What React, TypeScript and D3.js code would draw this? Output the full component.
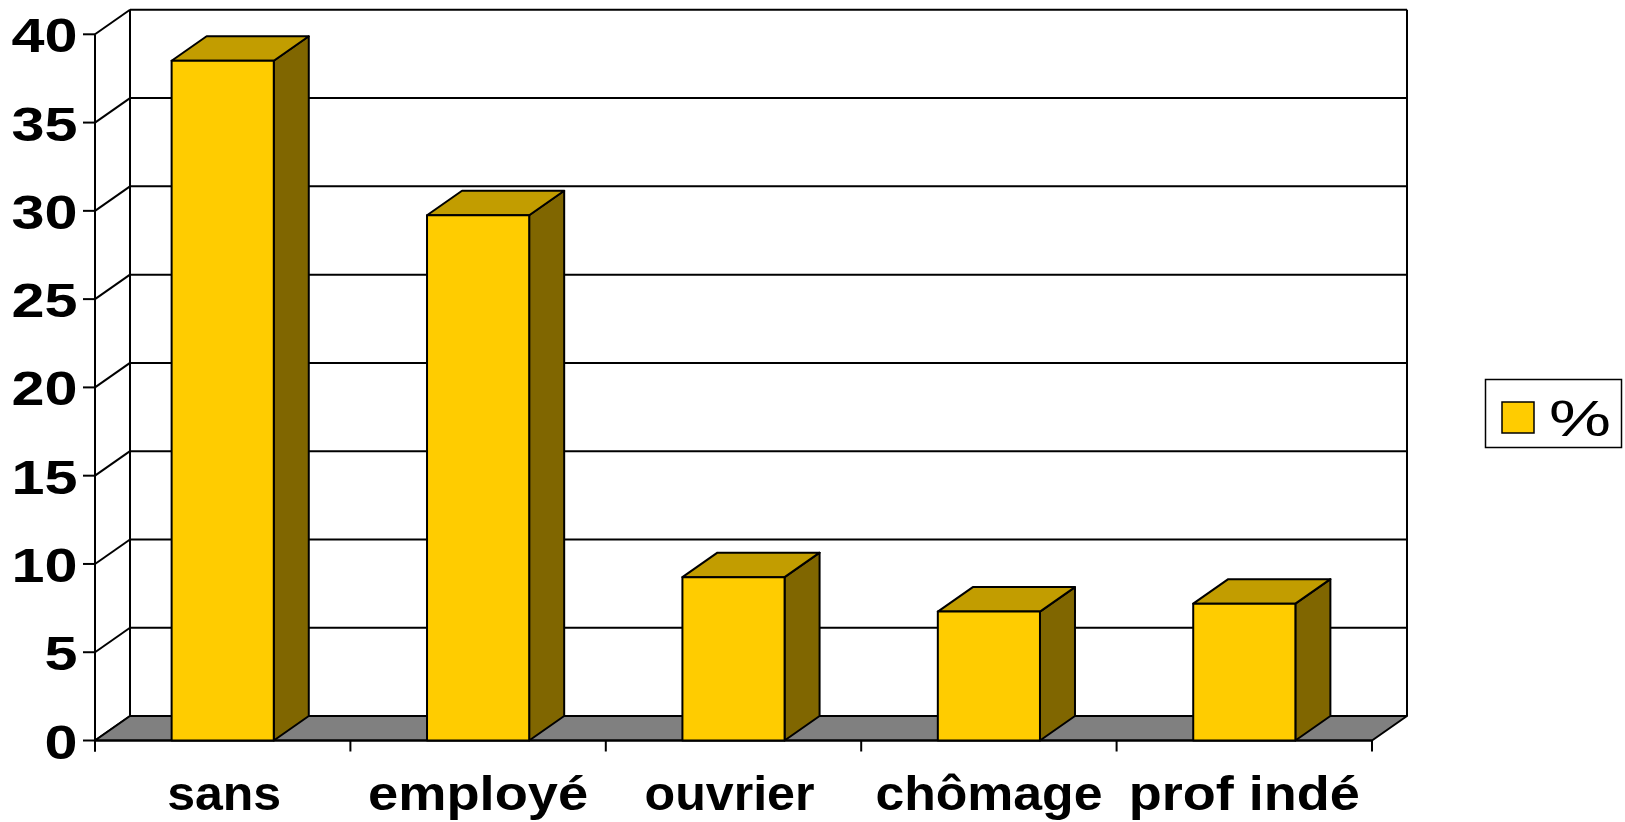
import React from "react";
import * as d3 from "d3";

// ---- data ----
const categories = ["sans", "employé", "ouvrier", "chômage", "prof indé"];
const values = [38.5, 29.75, 9.25, 7.3, 7.75];
const yTicks = [0, 5, 10, 15, 20, 25, 30, 35, 40];
const seriesName = "%";

// ---- layout constants ----
const W = 1625;
const H = 822;
const plotLeft = 95;
const plotRight = 1372;
const yZero = 740.5;
const yTop = 34.3;
const depthX = 35;
const depthY = -24.5;
const catLabelLengths = [114, 220, 170, 227, 231];

const FRONT = "#FFCC00";
const TOP = "#C29D00";
const SIDE = "#806600";
const FLOOR = "#808080";

export default function App() {
  const y = d3.scaleLinear().domain([0, 40]).range([yZero, yTop]);
  const x = d3
    .scaleBand<string>()
    .domain(categories)
    .range([plotLeft, plotRight])
    .paddingInner(0.6)
    .paddingOuter(0.3);
  const step = x.step();
  const bw = x.bandwidth();
  const backL = plotLeft + depthX;
  const backR = plotRight + depthX;
  const sw = 2;

  const floorPts = [
    [plotLeft, yZero],
    [plotRight, yZero],
    [backR, yZero + depthY],
    [backL, yZero + depthY],
  ]
    .map((p) => p.join(","))
    .join(" ");

  return (
    <svg
      width={W}
      height={H}
      style={{ position: "absolute", left: 0, top: 0, background: "#fff" }}
      fontFamily="'Liberation Sans', Arial, sans-serif"
    >
      {/* back wall gridlines */}
      {yTicks.map((t) => (
        <line
          key={"g" + t}
          x1={backL}
          x2={backR}
          y1={y(t) + depthY}
          y2={y(t) + depthY}
          stroke="#000"
          strokeWidth={sw}
        />
      ))}
      {/* side wall diagonals */}
      {yTicks.map((t) => (
        <line
          key={"d" + t}
          x1={plotLeft}
          x2={backL}
          y1={y(t)}
          y2={y(t) + depthY}
          stroke="#000"
          strokeWidth={sw}
        />
      ))}
      {/* back wall verticals */}
      <line x1={backL} x2={backL} y1={y(40) + depthY} y2={yZero + depthY} stroke="#000" strokeWidth={sw} />
      <line x1={backR} x2={backR} y1={y(40) + depthY} y2={yZero + depthY} stroke="#000" strokeWidth={sw} />
      {/* floor */}
      <polygon points={floorPts} fill={FLOOR} stroke="#000" strokeWidth={sw} strokeLinejoin="round" />
      {/* front y axis */}
      <line x1={plotLeft} x2={plotLeft} y1={y(40)} y2={yZero + 11} stroke="#000" strokeWidth={sw} />
      {yTicks.map((t) => (
        <line key={"t" + t} x1={plotLeft - 12} x2={plotLeft} y1={y(t)} y2={y(t)} stroke="#000" strokeWidth={sw} />
      ))}
      {yTicks.map((t) => {
        const len = String(t).length * 33;
        return (
          <text
            key={"l" + t}
            x={77.5}
            y={y(t) + 18}
            textAnchor="end"
            fontSize={48}
            fontWeight="bold"
            textLength={len}
            lengthAdjust="spacingAndGlyphs"
          >
            {t}
          </text>
        );
      })}
      {/* x axis */}
      <line x1={plotLeft} x2={plotRight} y1={yZero} y2={yZero} stroke="#000" strokeWidth={sw} />
      {d3.range(categories.length + 1).map((i) => (
        <line
          key={"xt" + i}
          x1={plotLeft + i * step}
          x2={plotLeft + i * step}
          y1={yZero}
          y2={yZero + 11}
          stroke="#000"
          strokeWidth={sw}
        />
      ))}
      {/* bars */}
      {categories.map((c, i) => {
        const x0 = x(c)!;
        const x1 = x0 + bw;
        const yt = y(values[i]);
        const top = [
          [x0, yt],
          [x1, yt],
          [x1 + depthX, yt + depthY],
          [x0 + depthX, yt + depthY],
        ]
          .map((p) => p.join(","))
          .join(" ");
        const side = [
          [x1, yt],
          [x1 + depthX, yt + depthY],
          [x1 + depthX, yZero + depthY],
          [x1, yZero],
        ]
          .map((p) => p.join(","))
          .join(" ");
        return (
          <g key={"b" + c} stroke="#000" strokeWidth={sw} strokeLinejoin="round">
            <polygon points={side} fill={SIDE} />
            <polygon points={top} fill={TOP} />
            <rect x={x0} y={yt} width={bw} height={yZero - yt} fill={FRONT} />
          </g>
        );
      })}
      {/* category labels */}
      {categories.map((c, i) => (
        <text
          key={"cl" + c}
          x={x(c)! + bw / 2 + (i === 0 ? 1.5 : i === 2 ? -4 : 0)}
          y={810}
          textAnchor="middle"
          fontSize={49}
          fontWeight="bold"
          textLength={catLabelLengths[i]}
          lengthAdjust="spacingAndGlyphs"
        >
          {c}
        </text>
      ))}
      {/* legend */}
      <rect x={1485.5} y={379.5} width={136} height={68} fill="#fff" stroke="#000" strokeWidth={1.5} />
      <rect x={1502} y={402} width={32} height={31} fill={FRONT} stroke="#000" strokeWidth={1.5} />
      <text x={1549} y={435.5} fontSize={50} textLength={62} lengthAdjust="spacingAndGlyphs">
        {seriesName}
      </text>
    </svg>
  );
}
